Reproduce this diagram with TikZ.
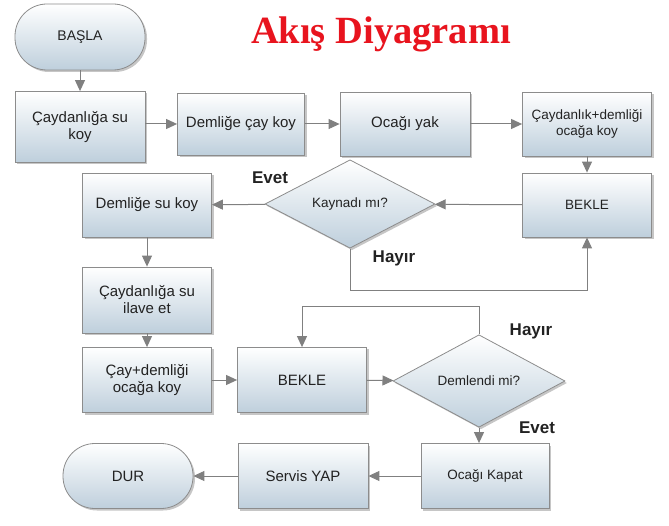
\documentclass[tikz,border=0pt]{standalone}
\usepackage{fontspec}
\setmainfont{Liberation Sans}
\newfontfamily\titlefont{Liberation Serif}
\usetikzlibrary{shapes.geometric,arrows.meta,shadows}
\definecolor{boxbot}{RGB}{190,207,220}
\definecolor{boxdraw}{RGB}{140,140,140}
\definecolor{linegray}{RGB}{128,128,128}
\definecolor{txt}{RGB}{34,34,34}
\definecolor{titlered}{RGB}{232,20,30}
\tikzset{
  fillstyle/.style={top color=white,bottom color=boxbot,draw=boxdraw,line width=0.8pt,
    drop shadow={shadow xshift=2pt,shadow yshift=-2pt,opacity=0.45},
    text=txt,align=center,inner sep=1pt},
  procbox/.style={fillstyle,rectangle,minimum width=129pt,minimum height=64pt,font=\fontsize{15}{17}\selectfont},
  smallbox/.style={procbox,font=\fontsize{13.5}{16}\selectfont},
  termbox/.style={fillstyle,rectangle,rounded corners=32pt,minimum width=130pt,minimum height=66pt},
  decbox/.style={fillstyle,diamond,inner sep=0pt,font=\fontsize{13.5}{16}\selectfont},
  conn/.style={draw=linegray,line width=1pt,-{Triangle[length=11pt,width=10pt]},fill=none},
  lbl/.style={text=txt,font=\bfseries\fontsize{17}{20}\selectfont,inner sep=0pt}
}
\begin{document}
\begin{tikzpicture}[x=1pt,y=-1pt]
\useasboundingbox (0,0) rectangle (669,526);
\node[text=titlered,font=\titlefont\bfseries\fontsize{38.5}{42}\selectfont] (title) at (381,34) {Akış Diyagramı};

\node[termbox,font=\fontsize{14}{16}\selectfont] (basla) at (80,37) {BAŞLA};
\node[procbox,minimum width=130pt,minimum height=71pt] (c1) at (80,127) {Çaydanlığa su\\koy};
\node[procbox,minimum width=127pt,minimum height=62pt] (c2) at (241,124) {Demliğe çay koy};
\node[procbox,minimum width=130pt] (c3) at (405,124) {Ocağı yak};
\node[smallbox] (c4) at (587,124) {Çaydanlık+demliği\\ocağa koy};
\node[smallbox] (bekle1) at (587,205) {BEKLE};
\node[decbox,minimum width=170pt,minimum height=88pt] (kay) at (350,204) {Kaynadı mı?};
\node[procbox] (dsu) at (147,205) {Demliğe su koy};
\node[procbox,minimum height=66pt] (ilave) at (147,300) {Çaydanlığa su\\ilave et};
\node[procbox,minimum height=65pt] (caydem) at (147,380) {Çay+demliği\\ocağa koy};
\node[procbox,minimum height=65pt] (bekle2) at (302,380) {BEKLE};
\node[decbox,minimum width=172pt,minimum height=85pt] (deml) at (479,381) {Demlendi mi?};
\node[smallbox,minimum width=128pt,minimum height=65pt] (kapat) at (485,476) {Ocağı Kapat};
\node[procbox,minimum width=130pt,minimum height=65pt] (servis) at (303,476) {Servis YAP};
\node[termbox,minimum height=65pt,font=\fontsize{15}{17}\selectfont] (dur) at (128,476) {DUR};

\node[lbl] (evet1) at (270,178) {Evet};
\node[lbl] (hayir1) at (394,258) {Hayır};
\node[lbl] (hayir2) at (531,331) {Hayır};
\node[lbl] (evet2) at (537,428) {Evet};

\coordinate (k1) at (350,291);
\coordinate (d1) at (479,307);

\draw[conn] (basla) -- (c1);
\draw[conn] (c1.east |- c2.west) -- (c2.west);
\draw[conn] (c2) -- (c3);
\draw[conn] (c3) -- (c4);
\draw[conn] (c4) -- (bekle1);
\draw[conn] (bekle1) -- (kay);
\draw[conn] (kay) -- (dsu);
\draw[conn] (kay.south) -- (k1) -| (bekle1.south);
\draw[conn] (dsu) -- (ilave);
\draw[conn] (ilave) -- (caydem);
\draw[conn] (caydem) -- (bekle2);
\draw[conn] (bekle2) -- (deml);
\draw[conn] (deml.north) -- (d1) -| (bekle2.north);
\draw[conn] (deml.south) -- (deml.south |- kapat.north);
\draw[conn] (kapat) -- (servis);
\draw[conn] (servis) -- (dur);
\end{tikzpicture}
\end{document}
